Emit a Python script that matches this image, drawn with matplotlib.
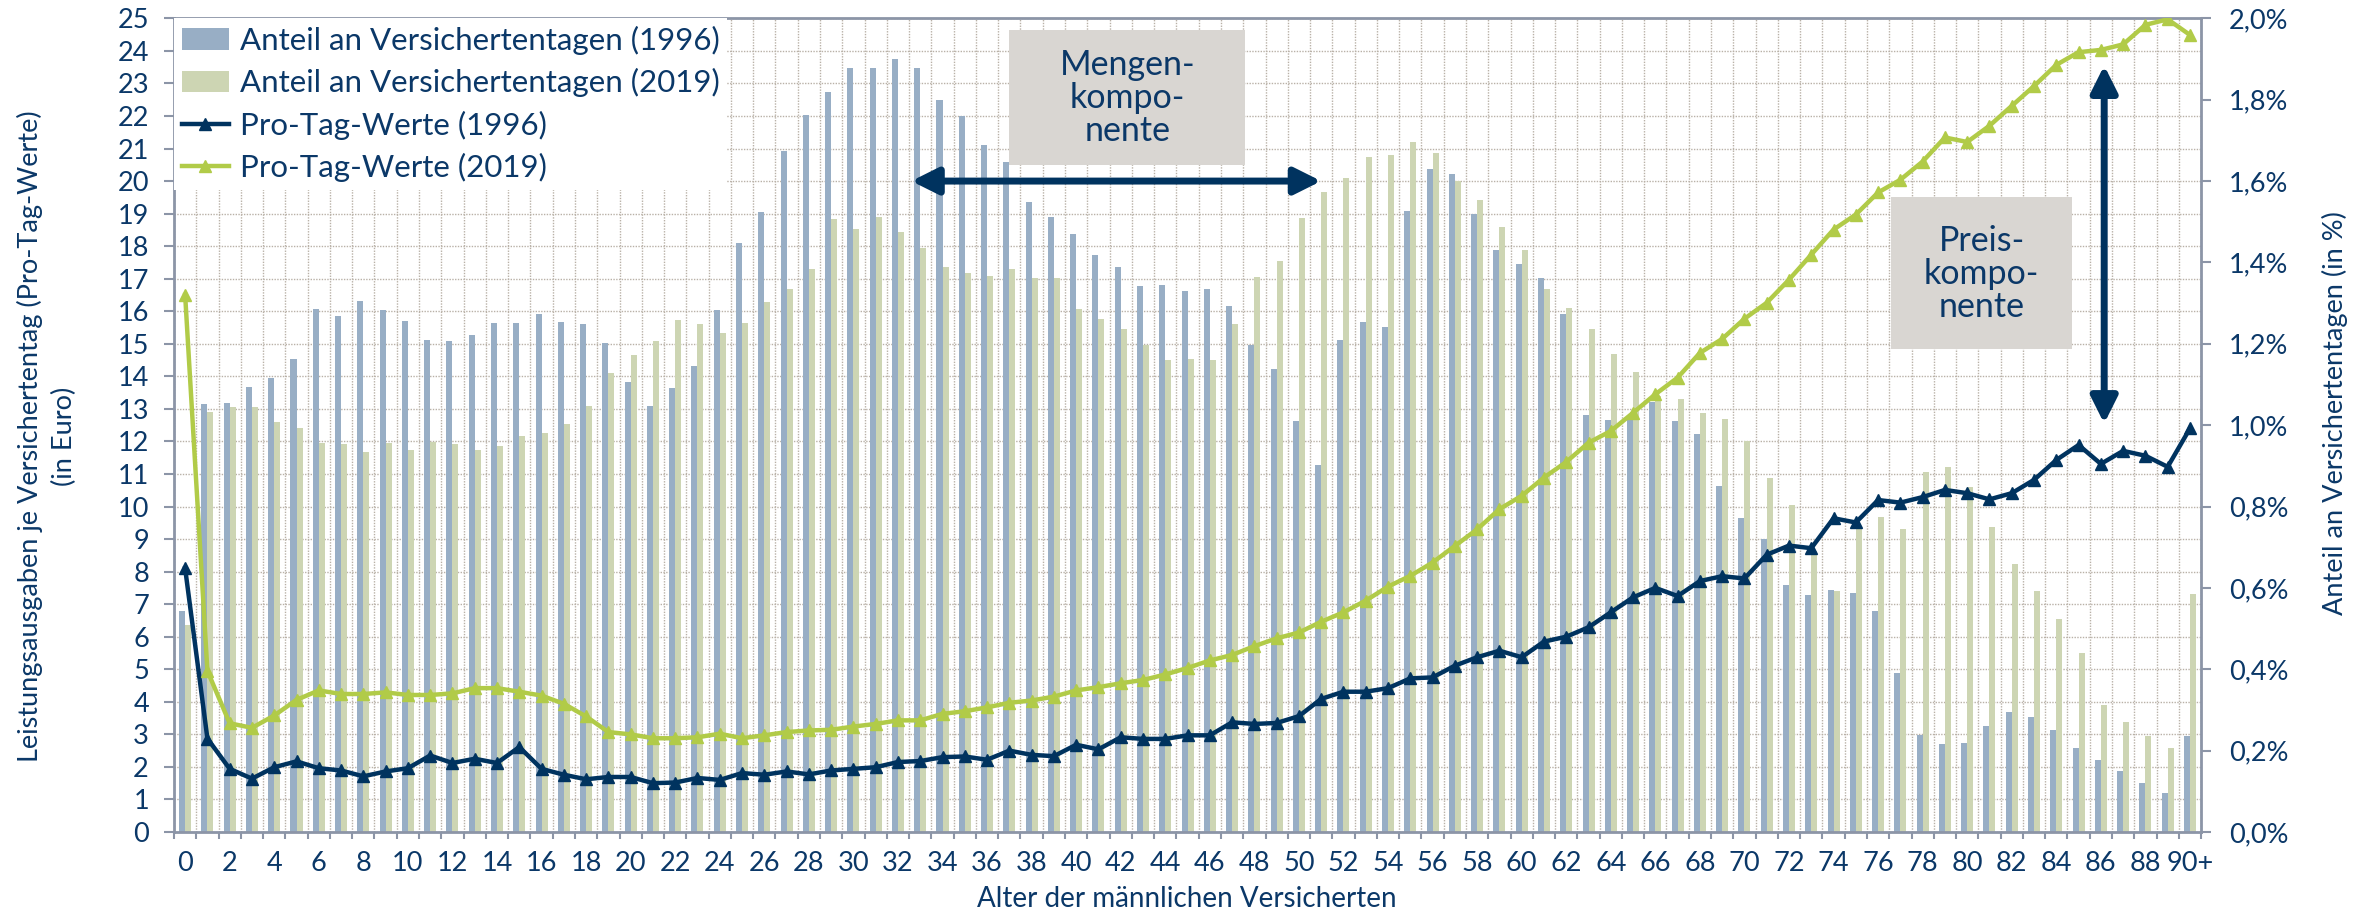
import numpy as np
import matplotlib
matplotlib.use('Agg')
import matplotlib.pyplot as plt
from matplotlib.patches import Patch, Rectangle
from matplotlib.lines import Line2D
from matplotlib.ticker import MultipleLocator, FuncFormatter

plt.rcParams['font.family'] = ['Lato', 'DejaVu Sans']

# Altersgruppen 0 .. 90+
ages = [str(a) for a in range(90)] + ['90+']

# Anteil an Versichertentagen (in %), rechte Achse
anteil_1996 = [
    0.542, 1.051, 1.055, 1.095, 1.117, 1.162, 1.286, 1.268, 1.304, 1.282,
    1.255, 1.210, 1.206, 1.221, 1.251, 1.251, 1.274, 1.253, 1.249, 1.202,
    1.105, 1.047, 1.091, 1.145, 1.282, 1.448, 1.524, 1.674, 1.763, 1.818,
    1.878, 1.878, 1.900, 1.878, 1.800, 1.761, 1.688, 1.646, 1.548, 1.512,
    1.470, 1.418, 1.388, 1.343, 1.345, 1.329, 1.335, 1.294, 1.197, 1.138,
    1.010, 0.902, 1.210, 1.253, 1.241, 1.527, 1.630, 1.618, 1.520, 1.430,
    1.396, 1.361, 1.274, 1.024, 1.013, 1.018, 1.056, 1.010, 0.979, 0.850,
    0.773, 0.720, 0.606, 0.583, 0.594, 0.588, 0.543, 0.392, 0.239, 0.216,
    0.218, 0.261, 0.296, 0.282, 0.250, 0.206, 0.177, 0.151, 0.120, 0.096,
    0.237]
anteil_2019 = [
    0.510, 1.032, 1.045, 1.045, 1.008, 0.994, 0.955, 0.954, 0.935, 0.957,
    0.938, 0.959, 0.954, 0.940, 0.949, 0.973, 0.980, 1.004, 1.048, 1.128,
    1.173, 1.206, 1.258, 1.248, 1.227, 1.252, 1.302, 1.335, 1.384, 1.507,
    1.483, 1.512, 1.474, 1.436, 1.390, 1.373, 1.366, 1.385, 1.361, 1.361,
    1.286, 1.260, 1.237, 1.197, 1.159, 1.162, 1.159, 1.248, 1.364, 1.404,
    1.510, 1.574, 1.607, 1.658, 1.665, 1.696, 1.670, 1.601, 1.554, 1.488,
    1.431, 1.335, 1.288, 1.236, 1.174, 1.130, 1.072, 1.064, 1.031, 1.014,
    0.960, 0.870, 0.804, 0.690, 0.592, 0.751, 0.775, 0.746, 0.884, 0.898,
    0.847, 0.750, 0.658, 0.592, 0.524, 0.439, 0.313, 0.271, 0.237, 0.206,
    0.586]

# Pro-Tag-Werte (in Euro), linke Achse
protag_1996 = [
    8.10, 2.87, 1.94, 1.64, 1.99, 2.17, 1.96, 1.89, 1.71, 1.86,
    1.96, 2.35, 2.12, 2.25, 2.12, 2.61, 1.94, 1.76, 1.62, 1.69,
    1.69, 1.50, 1.52, 1.66, 1.60, 1.81, 1.76, 1.86, 1.77, 1.89,
    1.94, 1.99, 2.15, 2.18, 2.30, 2.32, 2.22, 2.50, 2.37, 2.33,
    2.68, 2.54, 2.91, 2.86, 2.86, 2.97, 2.97, 3.37, 3.32, 3.35,
    3.56, 4.09, 4.31, 4.31, 4.42, 4.72, 4.75, 5.11, 5.37, 5.57,
    5.37, 5.85, 6.00, 6.29, 6.75, 7.21, 7.50, 7.25, 7.71, 7.86,
    7.79, 8.52, 8.80, 8.72, 9.64, 9.51, 10.20, 10.12, 10.29, 10.51,
    10.41, 10.22, 10.41, 10.82, 11.43, 11.89, 11.31, 11.71, 11.56, 11.22,
    12.40]
protag_2019 = [
    16.50, 4.95, 3.34, 3.20, 3.58, 4.06, 4.35, 4.24, 4.24, 4.29,
    4.21, 4.21, 4.26, 4.42, 4.42, 4.31, 4.19, 3.94, 3.55, 3.07,
    3.00, 2.88, 2.88, 2.91, 3.02, 2.88, 2.97, 3.07, 3.12, 3.14,
    3.24, 3.32, 3.43, 3.43, 3.63, 3.71, 3.83, 3.97, 4.04, 4.16,
    4.35, 4.45, 4.57, 4.67, 4.84, 5.04, 5.27, 5.44, 5.71, 5.95,
    6.13, 6.46, 6.75, 7.11, 7.54, 7.87, 8.28, 8.79, 9.30, 9.92,
    10.33, 10.89, 11.37, 11.96, 12.32, 12.88, 13.45, 13.96, 14.72, 15.15,
    15.77, 16.26, 16.97, 17.74, 18.51, 18.97, 19.65, 20.04, 20.60, 21.34,
    21.20, 21.70, 22.31, 22.92, 23.57, 23.96, 24.03, 24.20, 24.80, 24.97,
    24.49]

navy = '#00335f'
lime = '#b1cb48'
bar_blue = '#98aec5'
bar_green = '#cdd5b3'
txt = '#0b3868'
axis_gray = '#8c95a7'
grid_gray = '#b9b1a7'
box_gray = '#d9d6d2'

fig = plt.figure(figsize=(23.77, 9.17), dpi=100)
ax = fig.add_axes([0.0732, 0.0927, 0.8528, 0.8873])   # Balken, rechte Achse
axl = ax.twinx()                                       # Linien, linke Achse
ax.yaxis.tick_right()
ax.yaxis.set_label_position('right')
axl.yaxis.tick_left()
axl.yaxis.set_label_position('left')

x = np.arange(len(ages))
w = 0.27
ax.bar(x - w / 2, anteil_1996, width=w, color=bar_blue, zorder=2)
ax.bar(x + w / 2, anteil_2019, width=w, color=bar_green, zorder=2)

ax.set_xlim(-0.5, len(ages) - 0.5)
ax.set_ylim(0, 2.0)
axl.set_ylim(0, 25)

# Raster hinter den Balken
ax.set_axisbelow(True)
ax.set_xticks(x[::2])
ax.set_xticklabels(ages[::2])
ax.set_xticks(np.arange(-0.5, len(ages), 1), minor=True)
ax.yaxis.set_major_locator(MultipleLocator(0.2))
ax.yaxis.set_minor_locator(MultipleLocator(0.08))
ax.yaxis.remove_overlapping_locs = False
ax.grid(which='minor', color=grid_gray, linestyle=(0, (1, 1)), linewidth=1.0)
ax.yaxis.set_major_formatter(FuncFormatter(lambda v, p: f'{v:.1f}%'.replace('.', ',')))

ax.tick_params(axis='x', which='major', length=0, pad=14, labelsize=19.5, labelcolor=txt)
ax.tick_params(axis='x', which='minor', length=5, width=1.5, color=axis_gray, direction='out')
ax.tick_params(axis='y', which='major', length=7, width=1.5, color=axis_gray, pad=13,
               labelsize=19.5, labelcolor=txt, direction='out')
ax.tick_params(axis='y', which='minor', length=0)

axl.set_yticks(range(0, 26))
axl.tick_params(axis='y', length=7, width=1.5, color=axis_gray, pad=11,
                labelsize=19.5, labelcolor=txt, direction='out')

for s in ax.spines.values():
    s.set_color(axis_gray)
    s.set_linewidth(2)
for s in axl.spines.values():
    s.set_visible(False)

axl.plot(x, protag_1996, color=navy, lw=3.2, marker='^', ms=8, zorder=3)
axl.plot(x, protag_2019, color=lime, lw=3.2, marker='^', ms=8, zorder=3)

# Kästen und Pfeile
axl.add_patch(Rectangle((37.0, 20.5), 10.6, 4.15, facecolor=box_gray, edgecolor='none', zorder=4))
axl.text(42.3, 22.55, 'Mengen-\nkompo-\nnente', ha='center', va='center', fontsize=24.5,
         color=txt, linespacing=1.05, zorder=5)
axl.add_patch(Rectangle((76.6, 14.83), 8.1, 4.67, facecolor=box_gray, edgecolor='none', zorder=4))
axl.text(80.65, 17.15, 'Preis-\nkompo-\nnente', ha='center', va='center', fontsize=24.5,
         color=txt, linespacing=1.05, zorder=5)

arrow = dict(arrowstyle='<|-|>,head_length=0.8,head_width=0.4', mutation_scale=20,
             lw=5, color=navy, shrinkA=0, shrinkB=0)
axl.annotate('', xy=(32.6, 20), xytext=(51.0, 20), arrowprops=arrow, zorder=6)
axl.annotate('', xy=(86.15, 23.55), xytext=(86.15, 12.55), arrowprops=arrow, zorder=6)

handles = [Patch(facecolor=bar_blue), Patch(facecolor=bar_green),
           Line2D([], [], color=navy, lw=3.2, marker='^', ms=8),
           Line2D([], [], color=lime, lw=3.2, marker='^', ms=8)]
labels = ['Anteil an Versichertentagen (1996)', 'Anteil an Versichertentagen (2019)',
          'Pro-Tag-Werte (1996)', 'Pro-Tag-Werte (2019)']
leg = axl.legend(handles, labels, loc='upper left', bbox_to_anchor=(0, 1), borderaxespad=0,
                 fontsize=22.5, frameon=True, fancybox=False, framealpha=1, edgecolor='none',
                 facecolor='white', handlelength=1.5, labelspacing=0.42, handletextpad=0.35,
                 borderpad=0.25)
leg.set_zorder(7)
for t in leg.get_texts():
    t.set_color(txt)

fig.text(0.0198, 0.5245, 'Leistungsausgaben je Versichertentag (Pro-Tag-Werte)\n(in Euro)',
         rotation=90, ha='center', va='center', multialignment='center', fontsize=19.5,
         color=txt, linespacing=1.45)
fig.text(0.9823, 0.55, 'Anteil an Versichertentagen (in %)', rotation=90, ha='center',
         va='center', fontsize=19.5, color=txt)
fig.text(0.4995, 0.0196, 'Alter der männlichen Versicherten', ha='center', va='center',
         fontsize=20, color=txt)

fig.savefig('out.png', dpi=100)
